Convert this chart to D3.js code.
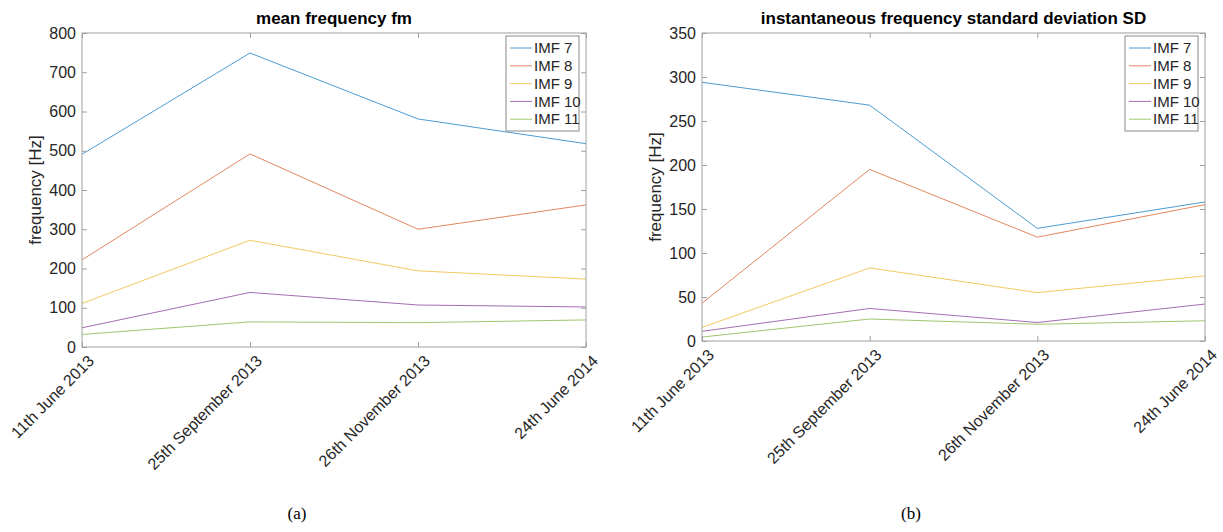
<!DOCTYPE html>
<html>
<head>
<meta charset="utf-8">
<script src="https://cdn.jsdelivr.net/npm/d3@7"></script>
<style>
  body { margin: 0; background: #fff; }
  svg text { font-family: "Liberation Sans", Arial, sans-serif; }
</style>
</head>
<body>
<script>
// dates on the x axis (categorical)
var dates = ['11th June 2013', '25th September 2013', '26th November 2013', '24th June 2014'];
var seriesNames = ['IMF 7', 'IMF 8', 'IMF 9', 'IMF 10', 'IMF 11'];
var colors = ['#0072BD', '#D95319', '#EDB120', '#7E2F8E', '#77AC30'];

// (a) mean frequency fm
var fmImf7 = [491, 749, 581, 518];
var fmImf8 = [222, 492, 300, 362];
var fmImf9 = [111, 272, 194, 173];
var fmImf10 = [49, 139, 107, 102];
var fmImf11 = [32, 64, 62, 69];
var fmTicks = [0, 100, 200, 300, 400, 500, 600, 700, 800];

// (b) instantaneous frequency standard deviation SD
var sdImf7 = [294, 268, 128, 158];
var sdImf8 = [43, 195, 118, 155];
var sdImf9 = [15.5, 83, 55, 74];
var sdImf10 = [11, 37, 21, 42];
var sdImf11 = [4.5, 25, 19, 23];
var sdTicks = [0, 50, 100, 150, 200, 250, 300, 350];

var svg = d3.select('body').append('svg').attr('width', 1223).attr('height', 532);

function drawPanel(opt){
    var g = svg.append('g');
    var x = d3.scalePoint().domain(dates).range([opt.left, opt.right]);
    var y = d3.scaleLinear().domain([0, opt.ymax]).range([opt.bottom, opt.top]);
    var axisCol = '#a0a0a0', textCol = '#262626';

    // series lines
    var line = d3.line().x(function(d, i){ return x(dates[i]); }).y(function(d){ return y(d); });
    opt.series.forEach(function(s, k){
        g.append('path').datum(s).attr('d', line).attr('fill', 'none')
            .attr('stroke', colors[k]).attr('stroke-width', 1).attr('stroke-opacity', 0.7);
    });

    // box + ticks (matlab style, ticks inside, mirrored)
    g.append('rect').attr('x', opt.left).attr('y', opt.top)
        .attr('width', opt.right - opt.left).attr('height', opt.bottom - opt.top)
        .attr('fill', 'none').attr('stroke', axisCol).attr('stroke-width', 1);

    var yl = g.append('g').attr('transform', 'translate(' + opt.left + ',0)')
        .call(d3.axisLeft(y).tickValues(opt.ticks).tickSizeInner(-5).tickSizeOuter(0).tickPadding(6));
    var yr = g.append('g').attr('transform', 'translate(' + opt.right + ',0)')
        .call(d3.axisRight(y).tickValues(opt.ticks).tickSizeInner(-5).tickSizeOuter(0).tickFormat(''));
    var xb = g.append('g').attr('transform', 'translate(0,' + opt.bottom + ')')
        .call(d3.axisBottom(x).tickSizeInner(-5).tickSizeOuter(0).tickFormat(''));
    var xt = g.append('g').attr('transform', 'translate(0,' + opt.top + ')')
        .call(d3.axisTop(x).tickSizeInner(-5).tickSizeOuter(0).tickFormat(''));
    [yl, yr, xb, xt].forEach(function(a){
        a.select('.domain').remove();
        a.selectAll('line').attr('stroke', axisCol);
    });
    yl.selectAll('text').attr('fill', textCol).style('font-size', '16px');

    // rotated date labels
    dates.forEach(function(d){
        g.append('text').text(d)
            .attr('transform', 'translate(' + (x(d) + 9) + ',' + (opt.bottom + 11) + ') rotate(-45)')
            .attr('text-anchor', 'end').attr('dy', '0.35em')
            .attr('fill', textCol).style('font-size', '16px');
    });

    // title & y label
    g.append('text').text(opt.title).attr('x', (opt.left + opt.right) / 2).attr('y', opt.top - 9)
        .attr('text-anchor', 'middle').attr('font-weight', 'bold').attr('fill', '#000').style('font-size', '17px');
    g.append('text').text('frequency [Hz]')
        .attr('transform', 'translate(' + (opt.left - 41) + ',' + ((opt.top + opt.bottom) / 2) + ') rotate(-90)')
        .attr('text-anchor', 'middle').attr('fill', textCol).style('font-size', '17px');

    // legend
    var lx = opt.right - 80, ly = opt.top + 3, lw = 73, lh = 95;
    g.append('rect').attr('x', lx).attr('y', ly).attr('width', lw).attr('height', lh)
        .attr('fill', '#fff').attr('stroke', '#8a8a8a').attr('stroke-width', 1);
    seriesNames.forEach(function(n, k){
        var yy = ly + 12 + k * 17.8;
        g.append('line').attr('x1', lx + 4).attr('x2', lx + 26).attr('y1', yy).attr('y2', yy)
            .attr('stroke', colors[k]).attr('stroke-opacity', 0.7);
        g.append('text').text(n).attr('x', lx + 28).attr('y', yy).attr('dy', '0.35em')
            .attr('fill', textCol).style('font-size', '15px');
    });

    // caption
    svg.append('text').text(opt.caption).attr('x', opt.capX).attr('y', 519)
        .attr('text-anchor', 'middle').attr('fill', '#000')
        .style('font-family', '"Liberation Serif", "Times New Roman", serif').style('font-size', '17px');
}

drawPanel({left: 82, right: 586, top: 33, bottom: 347, ymax: 800, ticks: fmTicks,
    series: [fmImf7, fmImf8, fmImf9, fmImf10, fmImf11], title: 'mean frequency fm', caption: '(a)', capX: 297});
drawPanel({left: 702, right: 1205, top: 33, bottom: 341, ymax: 350, ticks: sdTicks,
    series: [sdImf7, sdImf8, sdImf9, sdImf10, sdImf11],
    title: 'instantaneous frequency standard deviation SD', caption: '(b)', capX: 911});
</script>
</body>
</html>
